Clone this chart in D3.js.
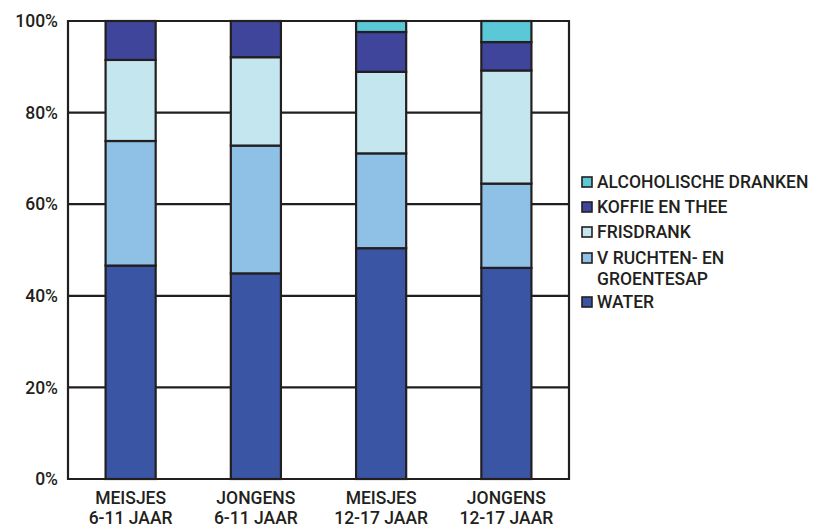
<!DOCTYPE html>
<html>
<head>
<meta charset="utf-8">
<script src="https://cdn.jsdelivr.net/npm/d3@7"></script>
<style>
  html, body { margin: 0; padding: 0; background: #fff; }
  svg { display: block; font-family: Roboto, "DejaVu Sans Condensed", sans-serif; font-weight: 500; }
</style>
</head>
<body>
<svg id="chart" width="834" height="529"></svg>
<script>
// Groups on the x axis (two text lines each)
const groups = ["MEISJES|6-11 JAAR", "JONGENS|6-11 JAAR", "MEISJES|12-17 JAAR", "JONGENS|12-17 JAAR"];

// Share of each drink type (%), stacked bottom to top
const water       = [46.6, 44.9, 50.4, 46.1];
const sappen      = [27.2, 27.9, 20.7, 18.4];
const frisdrank   = [17.7, 19.3, 17.8, 24.7];
const koffieThee  = [8.5, 7.9, 8.7, 6.2];
const alcohol     = [0, 0, 2.4, 4.6];

const seriesNames  = ["WATER", "V RUCHTEN- EN|GROENTESAP", "FRISDRANK", "KOFFIE EN THEE", "ALCOHOLISCHE DRANKEN"];
const seriesValues = [water, sappen, frisdrank, koffieThee, alcohol];
const colors       = ["#3a55a4", "#8fc0e6", "#c3e6ef", "#3f459a", "#5bc8d8"];

const yTicks = [0, 20, 40, 60, 80, 100];

const svg = d3.select("#chart");
const m = { left: 68, right: 569, top: 21, bottom: 479 };
const ink = "#231f20";
const fs = 17.5;

const x = d3.scaleBand().domain(groups).range([m.left, m.right]).paddingInner(0.6).paddingOuter(0.3);
const y = d3.scaleLinear().domain([0, 100]).range([m.bottom, m.top]);

// Gridlines
svg.append("g").selectAll("line").data(yTicks).join("line")
  .attr("x1", m.left).attr("x2", m.right)
  .attr("y1", d => y(d)).attr("y2", d => y(d))
  .attr("stroke", ink).attr("stroke-width", 2.2);

// Frame (left and right)
svg.append("line").attr("x1", m.left).attr("x2", m.left).attr("y1", m.top - 1).attr("y2", m.bottom + 1)
  .attr("stroke", ink).attr("stroke-width", 2.2);
svg.append("line").attr("x1", m.right).attr("x2", m.right).attr("y1", m.top - 1).attr("y2", m.bottom + 1)
  .attr("stroke", ink).attr("stroke-width", 2.2);

// Stacked bars
const table = groups.map((g, i) => {
  const row = { group: g };
  seriesNames.forEach((s, j) => row[s] = seriesValues[j][i]);
  return row;
});
const stacked = d3.stack().keys(seriesNames)(table);

svg.append("g").selectAll("g").data(stacked).join("g")
  .attr("fill", (d, i) => colors[i])
  .selectAll("rect").data(d => d.filter(p => p[1] - p[0] > 0)).join("rect")
  .attr("x", d => x(d.data.group))
  .attr("width", x.bandwidth())
  .attr("y", d => y(d[1]))
  .attr("height", d => y(d[0]) - y(d[1]))
  .attr("stroke", ink).attr("stroke-width", 2.2);

// Y tick labels
svg.append("g").selectAll("text").data(yTicks).join("text")
  .attr("x", 58).attr("y", d => y(d)).attr("dy", "0.35em")
  .attr("text-anchor", "end").attr("font-size", fs).attr("fill", ink)
  .text(d => d + "%");

// X labels
const xl = svg.append("g").selectAll("text").data(groups).join("text")
  .attr("text-anchor", "middle").attr("font-size", fs).attr("fill", ink);
xl.each(function(d) {
  const lines = d.split("|");
  const cx = x(d) + x.bandwidth() / 2;
  d3.select(this).selectAll("tspan").data(lines).join("tspan")
    .attr("x", cx).attr("y", (l, k) => 504 + k * 20).text(l => l);
});

// Legend (top entry is the top of the stack)
const legendOrder = [4, 3, 2, 1, 0];
const legendY = [182, 207, 232, 258, 302];
const lg = svg.append("g");
legendOrder.forEach((si, k) => {
  const cy = legendY[k];
  lg.append("rect").attr("x", 582).attr("y", cy - 5).attr("width", 10).attr("height", 10)
    .attr("fill", colors[si]).attr("stroke", ink).attr("stroke-width", 1.6);
  const lines = seriesNames[si].split("|");
  const t = lg.append("text").attr("font-size", fs).attr("fill", ink);
  lines.forEach((l, j) => {
    t.append("tspan").attr("x", 597).attr("y", cy + j * 21).attr("dy", "0.36em").text(l);
  });
});
</script>
</body>
</html>
